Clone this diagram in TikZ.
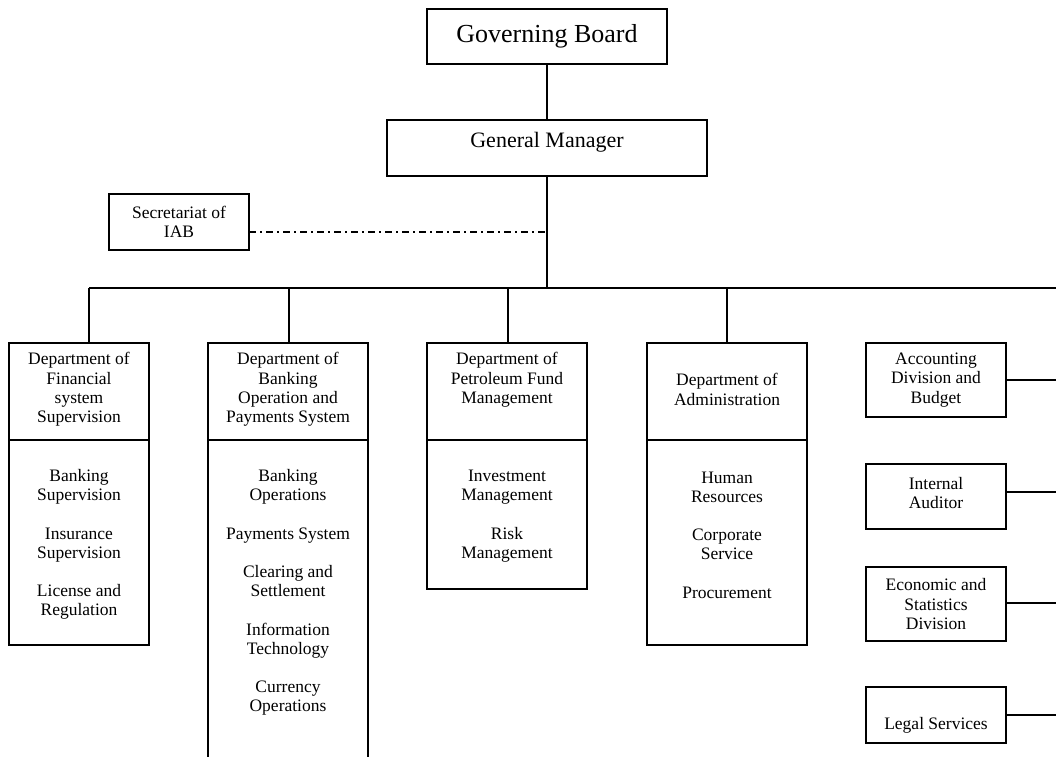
\documentclass[tikz,border=0pt]{standalone}
\usepackage{fontspec}
\setmainfont{Liberation Serif}
\tikzset{
  bx/.style={draw, line width=1.2pt, inner sep=0pt, outer sep=0pt, anchor=center},
  tx/.style={align=center, inner sep=0pt, font=\fontsize{17.5}{19.3}\selectfont},
  ln/.style={line width=1.2pt},
  dd/.style={line width=1.2pt, dash pattern=on 7pt off 4pt on 2pt off 4pt}
}
\begin{document}
\begin{tikzpicture}[x=1pt,y=-1pt]
\useasboundingbox (0,0) rectangle (1056,756);
\fill[white] (0,0) rectangle (1056,756);
\clip (0,0) rectangle (1056,756);

% top
\node[bx, minimum width=240pt, minimum height=55pt, font=\fontsize{26}{30}\selectfont] (gb) at (547,36.5) {Governing Board};
\node[bx, minimum width=320pt, minimum height=56pt] (gm) at (547,148) {};
\node[tx, font=\fontsize{22}{26}\selectfont] (gmt) at (547,142) {General Manager};
\node[bx, minimum width=140pt, minimum height=56pt] (sec) at (179,222) {};
\node[tx] (sect) at (179,222) {Secretariat of\\IAB};

\coordinate (busM) at (547,288);
\coordinate (bus0) at (89,288);
\coordinate (busR) at (1056,288);
\coordinate (dashEnd) at (547,232);

\draw[ln] (gb.south) -- (gm.north);
\draw[ln] (gm.south) -- (busM);
\draw[ln] (bus0) -- (busR);
\draw[dd] (sec.east |- dashEnd) -- (dashEnd);

% departments
\node[bx, minimum width=140pt, minimum height=97pt] (h1) at (79,391.5) {};
\node[bx, minimum width=140pt, minimum height=205pt] (b1) at (79,542.5) {};
\node[bx, minimum width=160pt, minimum height=97pt] (h2) at (288,391.5) {};
\node[bx, minimum width=160pt, minimum height=330pt] (b2) at (288,605) {};
\node[bx, minimum width=160pt, minimum height=97pt] (h3) at (507,391.5) {};
\node[bx, minimum width=160pt, minimum height=149pt] (b3) at (507,514.5) {};
\node[bx, minimum width=160pt, minimum height=97pt] (h4) at (727,391.5) {};
\node[bx, minimum width=160pt, minimum height=205pt] (b4) at (727,542.5) {};

\coordinate (d1) at (89,288);
\coordinate (d2) at (289,288);
\coordinate (d3) at (508,288);
\coordinate (d4) at (727,288);
\draw[ln] (d1) -- (d1 |- h1.north);
\draw[ln] (d2) -- (d2 |- h2.north);
\draw[ln] (d3) -- (d3 |- h3.north);
\draw[ln] (d4) -- (d4 |- h4.north);

\node[tx] (h1t) at (79,389.5) {Department of\\Financial\\system\\Supervision};
\node[tx] (h2t) at (288,389.5) {Department of\\Banking\\Operation and\\Payments System};
\node[tx] (h3t) at (507,380) {Department of\\Petroleum Fund\\Management};
\node[tx] (h4t) at (727,389.5) {Department of\\Administration};

\node[tx] (b1t) at (79,544.5) {Banking\\Supervision\\[19pt]Insurance\\Supervision\\[19pt]License and\\Regulation};
\node[tx] (b2t) at (288,592.5) {Banking\\Operations\\[19pt]Payments System\\[19pt]Clearing and\\Settlement\\[19pt]Information\\Technology\\[19pt]Currency\\Operations};
\node[tx] (b3t) at (507,516) {Investment\\Management\\[19pt]Risk\\Management};
\node[tx] (b4t) at (727,535) {Human\\Resources\\[19pt]Corporate\\Service\\[19pt]Procurement};

% right column
\node[bx, minimum width=140pt, minimum height=74pt] (a1) at (936,380) {};
\node[bx, minimum width=140pt, minimum height=65pt] (a2) at (936,496.5) {};
\node[bx, minimum width=140pt, minimum height=74pt] (a3) at (936,604) {};
\node[bx, minimum width=140pt, minimum height=56pt] (a4) at (936,715) {};
\node[tx] (a1t) at (936,380) {Accounting\\Division and\\Budget};
\node[tx] (a2t) at (936,493) {Internal\\Auditor};
\node[tx] (a3t) at (936,604) {Economic and\\Statistics\\Division};
\node[tx] (a4t) at (936,725) {Legal Services};

\coordinate (r1) at (1056,380);
\coordinate (r2) at (1056,492);
\coordinate (r3) at (1056,603);
\coordinate (r4) at (1056,715);
\draw[ln] (a1.east |- r1) -- (r1);
\draw[ln] (a2.east |- r2) -- (r2);
\draw[ln] (a3.east |- r3) -- (r3);
\draw[ln] (a4.east |- r4) -- (r4);
\end{tikzpicture}
\end{document}
